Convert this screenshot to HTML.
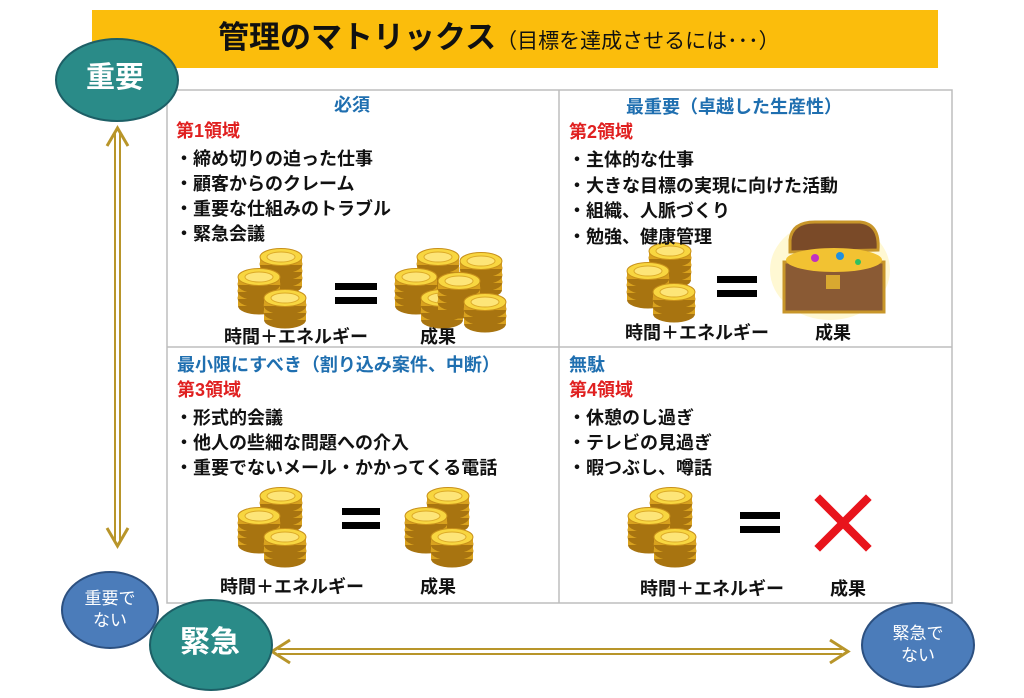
<!DOCTYPE html>
<html><head><meta charset="utf-8"><style>
body{margin:0;width:1024px;height:698px;background:#fff;position:relative;overflow:hidden;font-family:"Liberation Sans","Noto Sans CJK JP",sans-serif;}
.t{position:absolute;white-space:nowrap;color:#111;font-size:18px;line-height:1;font-weight:bold;}
.red{color:#e02020;font-weight:bold}
.blue{color:#1f6fb0;font-weight:bold}
svg{position:absolute;left:0;top:0}
</style></head><body>
<svg width="1024" height="698">
<defs>
<g id="coin">
<ellipse cx="21" cy="14" rx="21" ry="8.5" fill="#a87410"/>
<rect x="0" y="6" width="42" height="8" fill="#d9a21e"/>
<ellipse cx="21" cy="6" rx="21" ry="8.5" fill="#f8d640" stroke="#c8901a" stroke-width="1"/>
<ellipse cx="21" cy="6" rx="14" ry="5" fill="#fde578" stroke="#dcaa28" stroke-width="1"/>
</g>
<g id="stack3">
<use href="#coin" x="0" y="14"/><use href="#coin" x="0" y="7"/><use href="#coin" x="0" y="0"/>
</g>
<g id="pile">
<use href="#stack3" x="22" y="0"/><use href="#coin" x="22" y="-7"/>
<use href="#stack3" x="0" y="20"/><use href="#coin" x="0" y="13"/>
<use href="#stack3" x="26" y="34"/>
</g>
</defs>
<rect x="92" y="10" width="846" height="58" fill="#fbbd0c"/>
<rect x="167" y="90" width="785" height="513" fill="#fff" stroke="#bdbdbd" stroke-width="1.5"/>
<line x1="559" y1="90" x2="559" y2="603" stroke="#bdbdbd" stroke-width="1.5"/>
<line x1="167" y1="347" x2="952" y2="347" stroke="#bdbdbd" stroke-width="1.5"/>
<g stroke="#b8952a" stroke-width="2" fill="none">
<line x1="115" y1="132" x2="115" y2="542"/><line x1="120" y1="132" x2="120" y2="542"/>
<polyline points="107,146 117.5,128 128,146" stroke-width="3"/>
<polyline points="107,528 117.5,546 128,528" stroke-width="3"/>
<line x1="278" y1="649" x2="842" y2="649"/><line x1="278" y1="654" x2="842" y2="654"/>
<polyline points="290,640 272,651.5 290,663" stroke-width="3"/>
<polyline points="830,640 848,651.5 830,663" stroke-width="3"/>
</g>
<ellipse cx="117" cy="80" rx="61" ry="41" fill="#2a8b88" stroke="#1d5f66" stroke-width="2"/>
<ellipse cx="110" cy="610" rx="48" ry="38" fill="#4b7cba" stroke="#2c5080" stroke-width="2"/>
<ellipse cx="211" cy="645" rx="61" ry="45" fill="#2a8b88" stroke="#1d5f66" stroke-width="2"/>
<ellipse cx="918" cy="645" rx="56" ry="42" fill="#4b7cba" stroke="#2c5080" stroke-width="2"/>
<use href="#pile" x="238" y="258"/>
<use href="#pile" x="395" y="258"/><use href="#pile" x="438" y="262"/>
<rect x="335" y="283" width="42" height="7" fill="#000"/><rect x="335" y="297" width="42" height="7" fill="#000"/>
<use href="#pile" x="627" y="252"/>
<rect x="717" y="276" width="40" height="7" fill="#000"/><rect x="717" y="290" width="40" height="7" fill="#000"/>
<ellipse cx="830" cy="270" rx="60" ry="50" fill="#fff6c8" opacity="0.8"/>
<path d="M790 240 Q792 222 815 222 L860 222 Q880 224 878 250 L790 252Z" fill="#7a4a28" stroke="#c8962a" stroke-width="3"/>
<rect x="784" y="262" width="100" height="50" fill="#8a5a34" stroke="#c8962a" stroke-width="3"/>
<ellipse cx="834" cy="260" rx="48" ry="12" fill="#f2c232"/>
<circle cx="815" cy="258" r="4" fill="#c030c0"/><circle cx="840" cy="256" r="4" fill="#2090e0"/><circle cx="858" cy="262" r="3" fill="#30c060"/>
<rect x="826" y="275" width="14" height="14" fill="#d8a830"/>
<use href="#pile" x="238" y="497"/>
<use href="#pile" x="405" y="497"/>
<rect x="342" y="508" width="38" height="7" fill="#000"/><rect x="342" y="522" width="38" height="7" fill="#000"/>
<use href="#pile" x="628" y="497"/>
<rect x="740" y="512" width="40" height="7" fill="#000"/><rect x="740" y="526" width="40" height="7" fill="#000"/>
<g stroke="#e8141c" stroke-width="8" stroke-linecap="square">
<line x1="820" y1="500" x2="866" y2="546"/><line x1="866" y1="500" x2="820" y2="546"/></g>
</svg>

<div class="t" style="left:218px;top:22px;font-size:31px;">管理のマトリックス<span style="font-size:21px;font-weight:normal">（目標を達成させるには･･･）</span></div>
<div class="t" style="left:86px;top:64px;font-size:29px;color:#fff;">重要</div>
<div class="t" style="left:82px;top:588px;font-size:17px;color:#fff;text-align:center;width:56px;line-height:22px;white-space:normal;font-weight:normal">重要で<br>ない</div>
<div class="t" style="left:180px;top:628px;font-size:30px;color:#fff;">緊急</div>
<div class="t" style="left:890px;top:623px;font-size:17px;color:#fff;text-align:center;width:56px;line-height:22px;white-space:normal;font-weight:normal">緊急で<br>ない</div>

<div class="t blue" style="left:334px;top:96px;">必須</div>
<div class="t red" style="left:176px;top:122px;">第1領域</div>
<div class="t" style="left:175px;top:147px;line-height:25px;">・締め切りの迫った仕事<br>・顧客からのクレーム<br>・重要な仕組みのトラブル<br>・緊急会議</div>
<div class="t" style="left:224px;top:328px;">時間＋エネルギー</div>
<div class="t" style="left:420px;top:328px;">成果</div>

<div class="t blue" style="left:626px;top:98px;">最重要（卓越した生産性）</div>
<div class="t red" style="left:569px;top:123px;">第2領域</div>
<div class="t" style="left:568px;top:148px;line-height:25.5px;">・主体的な仕事<br>・大きな目標の実現に向けた活動<br>・組織、人脈づくり<br>・勉強、健康管理</div>
<div class="t" style="left:625px;top:324px;">時間＋エネルギー</div>
<div class="t" style="left:815px;top:324px;">成果</div>

<div class="t blue" style="left:177px;top:356px;">最小限にすべき（割り込み案件、中断）</div>
<div class="t red" style="left:177px;top:381px;">第3領域</div>
<div class="t" style="left:175px;top:406px;line-height:25px;">・形式的会議<br>・他人の些細な問題への介入<br>・重要でないメール・かかってくる電話</div>
<div class="t" style="left:220px;top:578px;">時間＋エネルギー</div>
<div class="t" style="left:420px;top:578px;">成果</div>

<div class="t blue" style="left:569px;top:356px;">無駄</div>
<div class="t red" style="left:569px;top:381px;">第4領域</div>
<div class="t" style="left:568px;top:406px;line-height:25px;">・休憩のし過ぎ<br>・テレビの見過ぎ<br>・暇つぶし、噂話</div>
<div class="t" style="left:640px;top:580px;">時間＋エネルギー</div>
<div class="t" style="left:830px;top:580px;">成果</div>
</body></html>
